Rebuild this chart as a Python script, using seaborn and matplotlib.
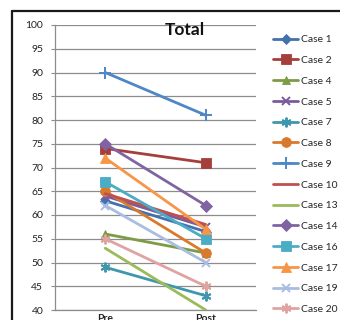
import matplotlib
matplotlib.use("Agg")
import matplotlib.pyplot as plt
from matplotlib.lines import Line2D
import pandas as pd
import seaborn as sns

# Scores before and after, one entry per case
cases = ["Case 1", "Case 2", "Case 4", "Case 5", "Case 7", "Case 8", "Case 9",
         "Case 10", "Case 13", "Case 14", "Case 16", "Case 17", "Case 19", "Case 20"]
pre_scores = [63, 74, 56, 64, 49, 65, 90, 64.5, 53, 75, 67, 72, 62, 55]
post_scores = [56.5, 71, 52, 57.5, 43, 52, 81, 58, 40, 62, 55, 57, 50, 45]
phases = ["Pre", "Post"]
y_ticks = list(range(40, 101, 5))

colors = ["#4271AE", "#A53F3C", "#7E9B45", "#7A5C9E", "#3E97AE", "#D9792C", "#4F86C6",
          "#C0504D", "#9BBB59", "#8064A2", "#4BACC6", "#F79646", "#A9BCE2", "#DFA3A1"]
markers = ["D", "s", "^", "x", (6, 2, 0), "o", "+",
           "", "", "D", "s", "^", "x", (6, 2, 0)]
msizes = [5, 7, 6, 6, 7, 7, 8, 0, 0, 6, 7.5, 6.5, 6, 7]


def edge_width(m):
    return 1.4 if m in ("x", "+") or isinstance(m, tuple) else 0.6


rows = []
for c, a, b in zip(cases, pre_scores, post_scores):
    rows.append({"case": c, "phase": "Pre", "score": a})
    rows.append({"case": c, "phase": "Post", "score": b})
df = pd.DataFrame(rows)

sns.set_style("white")
plt.rcParams["font.family"] = ["Lato", "DejaVu Sans"]

fig = plt.figure(figsize=(3.4, 3.2), dpi=100)
ax = fig.add_axes([55 / 340, 10 / 320, 201 / 340, 285 / 320])

for i, c in enumerate(cases):
    sub = df[df["case"] == c]
    sns.lineplot(data=sub, x="phase", y="score", ax=ax, color=colors[i],
                 marker=markers[i] if markers[i] != "" else None,
                 markersize=msizes[i], markeredgewidth=edge_width(markers[i]),
                 markeredgecolor=colors[i], linewidth=2.0, sort=False,
                 legend=False, zorder=3 + i)

ax.set_xlim(-0.5, 1.5)
ax.set_ylim(40, 100)
ax.set_yticks(y_ticks)
ax.set_yticklabels([str(t) for t in y_ticks], fontsize=7.5, color="#222222")
ax.set_xticks([0, 1])
ax.set_xticklabels(phases, fontsize=7.5, fontweight="bold", color="#222222")
ax.set_xlabel("")
ax.set_ylabel("")
ax.grid(axis="y", color="#8c8c8c", linewidth=0.9)
ax.grid(axis="x", visible=False)
ax.set_axisbelow(True)
for s in ["top", "right"]:
    ax.spines[s].set_visible(False)
for s in ["left", "bottom"]:
    ax.spines[s].set_color("#8c8c8c")
    ax.spines[s].set_linewidth(0.9)
ax.tick_params(axis="y", direction="out", length=3, width=0.8, color="#8c8c8c", pad=5.5, left=True)
ax.tick_params(axis="x", length=0, pad=3)

fig.text(185 / 340, 1 - 30 / 320, "Total", ha="center", va="center",
         fontsize=12.5, fontweight="bold", color="#111111")

# Legend
handles = []
for i, c in enumerate(cases):
    handles.append(Line2D([0], [0], color=colors[i], linewidth=2.0,
                          marker=markers[i] if markers[i] != "" else None,
                          markersize=msizes[i], markeredgecolor=colors[i],
                          markeredgewidth=edge_width(markers[i])))
fig.legend(handles, cases, loc="upper left", bbox_to_anchor=(273 / 340, 1 - 35 / 320),
           frameon=False, fontsize=7.5, handlelength=2.4, handletextpad=0.25,
           labelspacing=1.1, borderpad=0, borderaxespad=0)

# Outer chart frame
fig.add_artist(Line2D([12 / 340, 12 / 340], [0, 1 - 11 / 320], transform=fig.transFigure,
                      color="#1a1a1a", linewidth=1.6))
fig.add_artist(Line2D([12 / 340, 1], [1 - 11 / 320, 1 - 11 / 320], transform=fig.transFigure,
                      color="#1a1a1a", linewidth=1.6))

fig.savefig("out.png", dpi=100)
